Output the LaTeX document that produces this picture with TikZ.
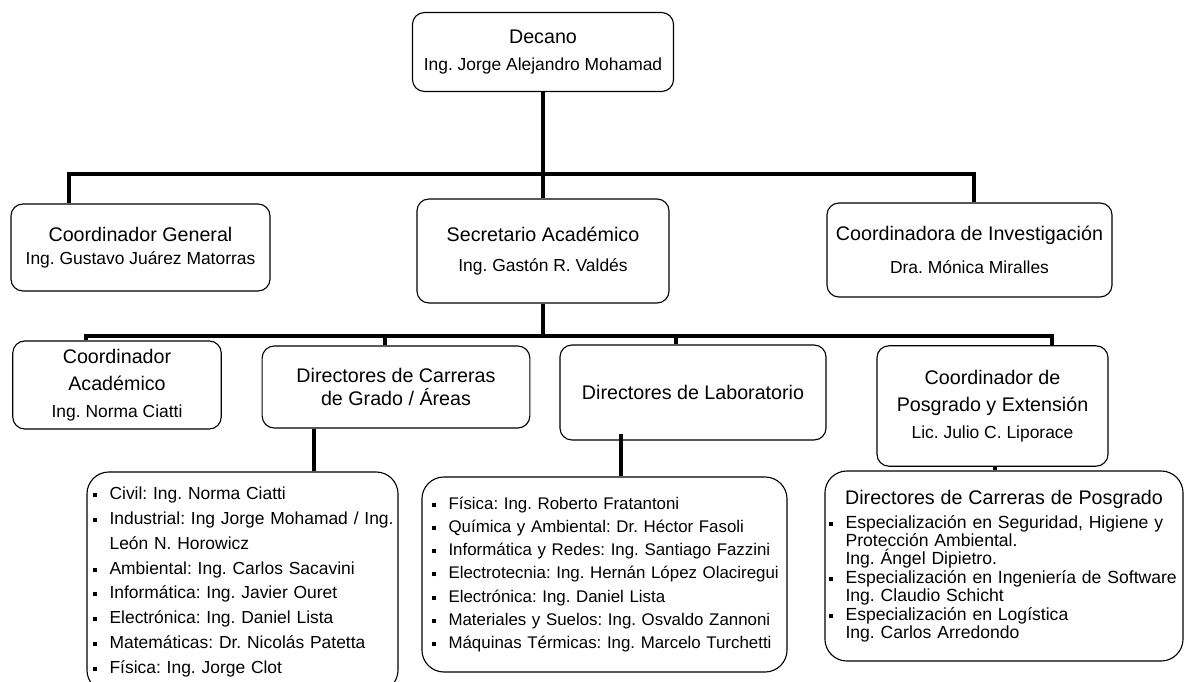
\documentclass[tikz,border=0pt]{standalone}
\usepackage{fontspec}
\setmainfont{Liberation Sans}
\frenchspacing
\newcommand\ttl{\fontsize{14}{19}\selectfont}
\newcommand\nm{\fontsize{12.4}{19}\selectfont}
\newcommand\blt{\rule[1.8pt]{2.8pt}{2.8pt}\hspace{9pt}}
\newcommand\ind{\phantom{\blt}}
\tikzset{
  box/.style={draw, line width=0.8pt, rounded corners=0.3cm, align=center, inner sep=2pt, font=\ttl},
  listbox/.style={draw, line width=0.8pt, rounded corners=0.55cm, align=left, inner ysep=0pt},
  conn/.style={line width=2.7pt},
}
\begin{document}
\begin{tikzpicture}[x=0.025cm,y=-0.025cm]
  \clip (0,0) rectangle (1186,682);
  % first row
  \node[box, minimum width=6.525cm, minimum height=1.975cm] (dec) at (543,52) {Decano\\{\nm Ing. Jorge Alejandro Mohamad}};
  % second row
  \node[box, minimum width=6.475cm, minimum height=2.175cm] (gen) at (140.5,247.5) {Coordinador General\\[-3pt]{\nm Ing. Gustavo Juárez Matorras}};
  \node[box, minimum width=6.3cm, minimum height=2.6cm] (sec) at (543,251) {Secretario Académico\\[2pt]{\nm Ing. Gastón R. Valdés}};
  \node[box, minimum width=7.125cm, minimum height=2.35cm] (inv) at (969.5,250) {Coordinadora de Investigación\\[4pt]{\nm Dra. Mónica Miralles}};
  % third row
  \node[box, minimum width=5.21cm, minimum height=2.2cm] (aca) at (117,385) {Coordinador\\Académico\\{\nm Ing. Norma Ciatti}};
  \node[box, minimum width=6.69cm, minimum height=2.05cm] (car) at (396,387) {Directores de Carreras\\[-2pt]de Grado / Áreas};
  \node[box, minimum width=6.65cm, minimum height=2.375cm] (lab) at (693,392.5) {Directores de Laboratorio};
  \node[box, minimum width=5.775cm, minimum height=3.01cm] (pos) at (992.5,406) {Coordinador de\\Posgrado y Extensión\\{\nm Lic. Julio C. Liporace}};
  % lists
  \node[listbox, text width=7.475cm, inner xsep=0.15cm, minimum height=5.5cm, font=\fontsize{12.4}{17.7}\selectfont] (carlist) at (242.5,582) {%
    \mbox{\blt Civil: Ing. Norma Ciatti}\\
    \mbox{\blt Industrial: Ing Jorge Mohamad / Ing.}\\
    \mbox{\ind León N. Horowicz}\\
    \mbox{\blt Ambiental: Ing. Carlos Sacavini}\\
    \mbox{\blt Informática: Ing. Javier Ouret}\\
    \mbox{\blt Electrónica: Ing. Daniel Lista}\\
    \mbox{\blt Matemáticas: Dr. Nicolás Patetta}\\
    \mbox{\blt Física: Ing. Jorge Clot}};
  \node[listbox, text width=8.625cm, inner xsep=0.25cm, minimum height=4.875cm, font=\fontsize{12}{16.5}\selectfont] (lablist) at (604.5,574.5) {%
    \mbox{\blt Física: Ing. Roberto Fratantoni}\\
    \mbox{\blt Química y Ambiental: Dr. Héctor Fasoli}\\
    \mbox{\blt Informática y Redes: Ing. Santiago Fazzini}\\
    \mbox{\blt Electrotecnia: Ing. Hernán López Olaciregui}\\
    \mbox{\blt Electrónica: Ing. Daniel Lista}\\
    \mbox{\blt Materiales y Suelos: Ing. Osvaldo Zannoni}\\
    \mbox{\blt Máquinas Térmicas: Ing. Marcelo Turchetti}};
  \node[listbox, text width=8.75cm, inner xsep=0.1cm, minimum height=4.75cm, font=\fontsize{12.5}{13.1}\selectfont] (poslist) at (1004,566) {%
    \makebox[\linewidth]{\ttl Directores de Carreras de Posgrado}\\[4pt]
    \mbox{\blt Especialización en Seguridad, Higiene y}\\
    \mbox{\ind Protección Ambiental.}\\
    \mbox{\ind Ing. Ángel Dipietro.}\\
    \mbox{\blt Especialización en Ingeniería de Software}\\
    \mbox{\ind Ing. Claudio Schicht}\\
    \mbox{\blt Especialización en Logística}\\
    \mbox{\ind Ing. Carlos Arredondo}};
  % connectors
  \coordinate (t1) at (69,174);
  \coordinate (t2) at (974,174);
  \coordinate (m1) at (86,336);
  \coordinate (m2) at (385,336);
  \coordinate (m3) at (676,336);
  \coordinate (m4) at (1052,336);
  \coordinate (d1) at (314,450);
  \coordinate (d2) at (621,450);
  \coordinate (d3) at (995,450);
  \draw[conn] (dec.south) -- (sec.north);
  \draw[conn] (t1 |- gen.north) -- (t1) -- (t2) -- (t2 |- inv.north);
  \draw[conn] (sec.south) -- (sec.south |- m1);
  \draw[conn] (m1 |- aca.north) -- (m1) -- (m4) -- (m4 |- pos.north);
  \draw[conn] (m2) -- (m2 |- car.north);
  \draw[conn] (m3) -- (m3 |- lab.north);
  \draw[conn] (d1 |- car.south) -- (d1 |- carlist.north);
  \draw[conn] ([yshift=0.17cm]d2 |- lab.south) -- (d2 |- lablist.north);
  \draw[conn] (d3 |- pos.south) -- (d3 |- poslist.north);
\end{tikzpicture}
\end{document}
